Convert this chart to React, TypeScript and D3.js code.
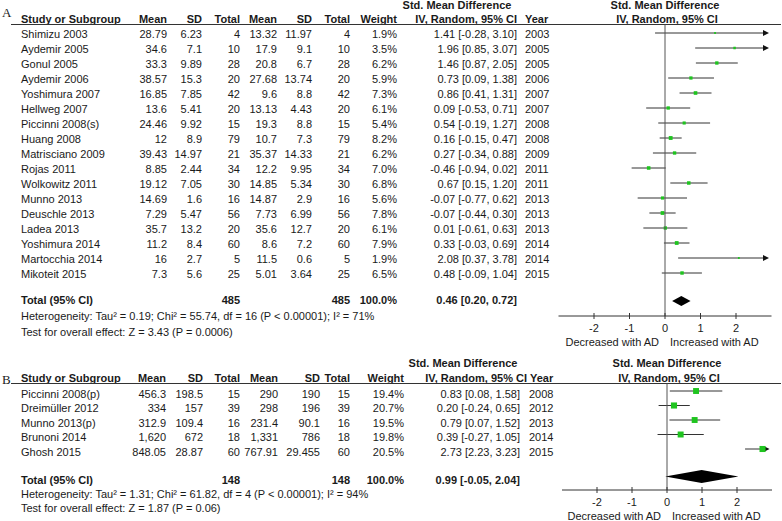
import React from "react";
import * as d3 from "d3";

// ---------- Panel A data ----------
const studiesA = ["Shimizu 2003","Aydemir 2005","Gonul 2005","Aydemir 2006","Yoshimura 2007","Hellweg 2007","Piccinni 2008(s)","Huang 2008","Matrisciano 2009","Rojas 2011","Wolkowitz 2011","Munno 2013","Deuschle 2013","Ladea 2013","Yoshimura 2014","Martocchia 2014","Mikoteit 2015"];
const meanA1 = [28.79,34.6,33.3,38.57,16.85,13.6,24.46,12,39.43,8.85,19.12,14.69,7.29,35.7,11.2,16,7.3];
const sdA1 = [6.23,7.1,9.89,15.3,7.85,5.41,9.92,8.9,14.97,2.44,7.05,1.6,5.47,13.2,8.4,2.7,5.6];
const nA1 = [4,10,28,20,42,20,15,79,21,34,30,16,56,20,60,5,25];
const meanA2 = [13.32,17.9,20.8,27.68,9.6,13.13,19.3,10.7,35.37,12.2,14.85,14.87,7.73,35.6,8.6,11.5,5.01];
const sdA2 = [11.97,9.1,6.7,13.74,8.8,4.43,8.8,7.3,14.33,9.95,5.34,2.9,6.99,12.7,7.2,0.6,3.64];
const nA2 = [4,10,28,20,42,20,15,79,21,34,30,16,56,20,60,5,25];
const weightA = [1.9,3.5,6.2,5.9,7.3,6.1,5.4,8.2,6.2,7.0,6.8,5.6,7.8,6.1,7.9,1.9,6.5];
const smdA = [1.41,1.96,1.46,0.73,0.86,0.09,0.54,0.16,0.27,-0.46,0.67,-0.07,-0.07,0.01,0.33,2.08,0.48];
const lowA = [-0.28,0.85,0.87,0.09,0.41,-0.53,-0.19,-0.15,-0.34,-0.94,0.15,-0.77,-0.44,-0.61,-0.03,0.37,-0.09];
const highA = [3.10,3.07,2.05,1.38,1.31,0.71,1.27,0.47,0.88,0.02,1.20,0.62,0.30,0.63,0.69,3.78,1.04];
const yearA = [2003,2005,2005,2006,2007,2007,2008,2008,2009,2011,2011,2013,2013,2013,2014,2014,2015];
const totalA = { n1: 485, n2: 485, est: 0.46, low: 0.20, high: 0.72 };
const hetA = "Heterogeneity: Tau\u00b2 = 0.19; Chi\u00b2 = 55.74, df = 16 (P < 0.00001); I\u00b2 = 71%";
const testA = "Test for overall effect: Z = 3.43 (P = 0.0006)";

// ---------- Panel B data ----------
const studiesB = ["Piccinni 2008(p)","Dreimüller 2012","Munno 2013(p)","Brunoni 2014","Ghosh 2015"];
const meanB1 = [456.3,334,312.9,1620,848.05];
const sdB1 = [198.5,157,109.4,672,28.87];
const nB1 = [15,39,16,18,60];
const meanB2 = [290,298,231.4,1331,767.91];
const sdB2 = [190,196,90.1,786,29.455];
const nB2 = [15,39,16,18,60];
const weightB = [19.4,20.7,19.5,19.8,20.5];
const smdB = [0.83,0.20,0.79,0.39,2.73];
const lowB = [0.08,-0.24,0.07,-0.27,2.23];
const highB = [1.58,0.65,1.52,1.05,3.23];
const yearB = [2008,2012,2013,2014,2015];
const totalB = { n1: 148, n2: 148, est: 0.99, low: -0.05, high: 2.04 };
const hetB = "Heterogeneity: Tau\u00b2 = 1.31; Chi\u00b2 = 61.82, df = 4 (P < 0.00001); I\u00b2 = 94%";
const testB = "Test for overall effect: Z = 1.87 (P = 0.06)";

const axisTicks = [-2, -1, 0, 1, 2];
const colHeaders = ["Mean", "SD", "Total", "Mean", "SD", "Total", "Weight"];

const fmtNum = d3.format(",");
const f2 = (v: number) => v.toFixed(2);
const FONT = "Liberation Sans, Arial, sans-serif";
const GREEN = "#1fc41f";
const FS = 11;

type PanelProps = {
  label: string;
  names: string[]; m1: number[]; s1: number[]; n1: number[]; m2: number[]; s2: number[]; n2: number[];
  w: number[]; est: number[]; lo: number[]; hi: number[]; yr: number[];
  total: { n1: number; n2: number; est: number; low: number; high: number };
  het: string; test: string;
  x: d3.ScaleLinear<number, number>;
  labelY: number; head1Y: number; head2Y: number; lineY: number;
  rowY: d3.ScaleLinear<number, number>;
  lineOff: number;
  totalY: number; diamondY: number; diamondH: number; hetY: number; testY: number;
  axisY: number;
  cols: number[]; ciRight: number; yearLeft: number; smdHeadX: number; ciHeadRight: number; yearHeadLeft: number;
};

function Panel(p: PanelProps) {
  const x = p.x;
  const [x0, x1] = x.range();
  const vals = p.names.map((_, i) => [fmtNum(p.m1[i]), fmtNum(p.s1[i]), String(p.n1[i]), fmtNum(p.m2[i]), fmtNum(p.s2[i]), String(p.n2[i]), p.w[i].toFixed(1) + "%"]);
  const tipX = x(2.93);
  return (
    <g fontFamily={FONT} fontSize={FS} fill="#1a1a1a">
      <text x={2} y={p.labelY} dy="0.35em" fontFamily="Liberation Serif, Times New Roman, serif" fontSize={13}>{p.label}</text>
      {/* header */}
      <g fontWeight="bold">
        <text x={p.smdHeadX} y={p.head1Y} dy="0.35em" textAnchor="middle">Std. Mean Difference</text>
        <text x={x(0)} y={p.head1Y} dy="0.35em" textAnchor="middle">Std. Mean Difference</text>
        <text x={21} y={p.head2Y} dy="0.35em">Study or Subgroup</text>
        {colHeaders.map((h, j) => (
          <text key={j} x={p.cols[j]} y={p.head2Y} dy="0.35em" textAnchor="end">{h}</text>
        ))}
        <text x={p.ciHeadRight} y={p.head2Y} dy="0.35em" textAnchor="end">IV, Random, 95% CI</text>
        <text x={p.yearHeadLeft} y={p.head2Y} dy="0.35em">Year</text>
        <text x={x(0) + 2} y={p.head2Y} dy="0.35em" textAnchor="middle">IV, Random, 95% CI</text>
      </g>
      <line x1={11} x2={781} y1={p.lineY} y2={p.lineY} stroke="#333" strokeWidth={1} />
      {/* rows */}
      {p.names.map((nm, i) => {
        const ty = p.rowY(i);
        const ly = ty - p.lineOff;
        const s = 6 * Math.sqrt(p.w[i] / 20);
        const clipped = p.hi[i] > 3;
        const right = clipped ? tipX - 5 : x(p.hi[i]);
        return (
          <g key={nm}>
            <text x={21} y={ty} dy="0.35em">{nm}</text>
            {vals[i].map((v, j) => (
              <text key={j} x={p.cols[j]} y={ty} dy="0.35em" textAnchor="end">{v}</text>
            ))}
            <text x={p.ciRight} y={ty} dy="0.35em" textAnchor="end">{`${f2(p.est[i])} [${f2(p.lo[i])}, ${f2(p.hi[i])}]`}</text>
            <text x={p.yearLeft} y={ty} dy="0.35em">{p.yr[i]}</text>
            <line x1={x(p.lo[i])} x2={right} y1={ly} y2={ly} stroke="#333" strokeWidth={1} />
            {clipped && (
              <path d={`M${tipX - 6},${ly - 3}L${tipX},${ly}L${tipX - 6},${ly + 3}Z`} fill="#111" />
            )}
            <rect x={x(p.est[i]) - s / 2} y={ly - s / 2} width={s} height={s} fill={GREEN} />
          </g>
        );
      })}
      {/* zero line */}
      <line x1={x(0)} x2={x(0)} y1={p.lineY} y2={p.axisY} stroke="#555" strokeWidth={1} />
      {/* total */}
      <g fontWeight="bold">
        <text x={21} y={p.totalY} dy="0.35em">Total (95% CI)</text>
        <text x={p.cols[2]} y={p.totalY} dy="0.35em" textAnchor="end">{p.total.n1}</text>
        <text x={p.cols[5]} y={p.totalY} dy="0.35em" textAnchor="end">{p.total.n2}</text>
        <text x={p.cols[6]} y={p.totalY} dy="0.35em" textAnchor="end">100.0%</text>
        <text x={p.ciRight} y={p.totalY} dy="0.35em" textAnchor="end">{`${f2(p.total.est)} [${f2(p.total.low)}, ${f2(p.total.high)}]`}</text>
      </g>
      <path
        d={`M${x(p.total.low)},${p.diamondY}L${x(p.total.est)},${p.diamondY - p.diamondH}L${x(p.total.high)},${p.diamondY}L${x(p.total.est)},${p.diamondY + p.diamondH}Z`}
        fill="#000"
      />
      <text x={21} y={p.hetY} dy="0.35em">{p.het}</text>
      <text x={21} y={p.testY} dy="0.35em">{p.test}</text>
      {/* axis */}
      <line x1={x0} x2={x1} y1={p.axisY} y2={p.axisY} stroke="#333" strokeWidth={1} />
      {axisTicks.map((t) => (
        <g key={t}>
          <line x1={x(t)} x2={x(t)} y1={p.axisY - 3} y2={p.axisY + 3} stroke="#333" />
          <text x={x(t)} y={p.axisY + 12} dy="0.35em" textAnchor="middle">{t}</text>
        </g>
      ))}
      <text x={x(0) - 6} y={p.axisY + 26} dy="0.35em" textAnchor="end">Decreased with AD</text>
      <text x={x(0) + 5} y={p.axisY + 26} dy="0.35em">Increased with AD</text>
    </g>
  );
}

export default function App() {
  const xA = d3.scaleLinear().domain([-3, 3]).range([558.5, 771.5]);
  const xB = d3.scaleLinear().domain([-3, 3]).range([562, 772]);
  const rowA = d3.scaleLinear().domain([0, 16]).range([34.5, 274.5]);
  const rowB = d3.scaleLinear().domain([0, 4]).range([394, 452]);
  return (
    <svg width={782} height={521} style={{ position: "absolute", left: 0, top: 0, background: "#fff" }}>
      <rect width={782} height={521} fill="#fff" />
      <Panel
        label="A" names={studiesA} m1={meanA1} s1={sdA1} n1={nA1} m2={meanA2} s2={sdA2} n2={nA2}
        w={weightA} est={smdA} lo={lowA} hi={highA} yr={yearA} total={totalA} het={hetA} test={testA}
        x={xA} labelY={12} head1Y={5.5} head2Y={19.5} lineY={24.5} rowY={rowA} lineOff={1.5}
        totalY={300.5} diamondY={301} diamondH={5} hetY={316} testY={332} axisY={316}
        cols={[167, 202, 240, 277, 312, 350, 397]} ciRight={517} yearLeft={525}
        smdHeadX={457} ciHeadRight={517} yearHeadLeft={525}
      />
      <Panel
        label="B" names={studiesB} m1={meanB1} s1={sdB1} n1={nB1} m2={meanB2} s2={sdB2} n2={nB2}
        w={weightB} est={smdB} lo={lowB} hi={highB} yr={yearB} total={totalB} het={hetB} test={testB}
        x={xB} labelY={379} head1Y={363} head2Y={378} lineY={383.5} rowY={rowB} lineOff={3}
        totalY={480} diamondY={476.5} diamondH={6.5} hetY={494} testY={508} axisY={490}
        cols={[166, 203, 240, 278, 320, 350, 404]} ciRight={520} yearLeft={529}
        smdHeadX={463} ciHeadRight={527} yearHeadLeft={530}
      />
    </svg>
  );
}
